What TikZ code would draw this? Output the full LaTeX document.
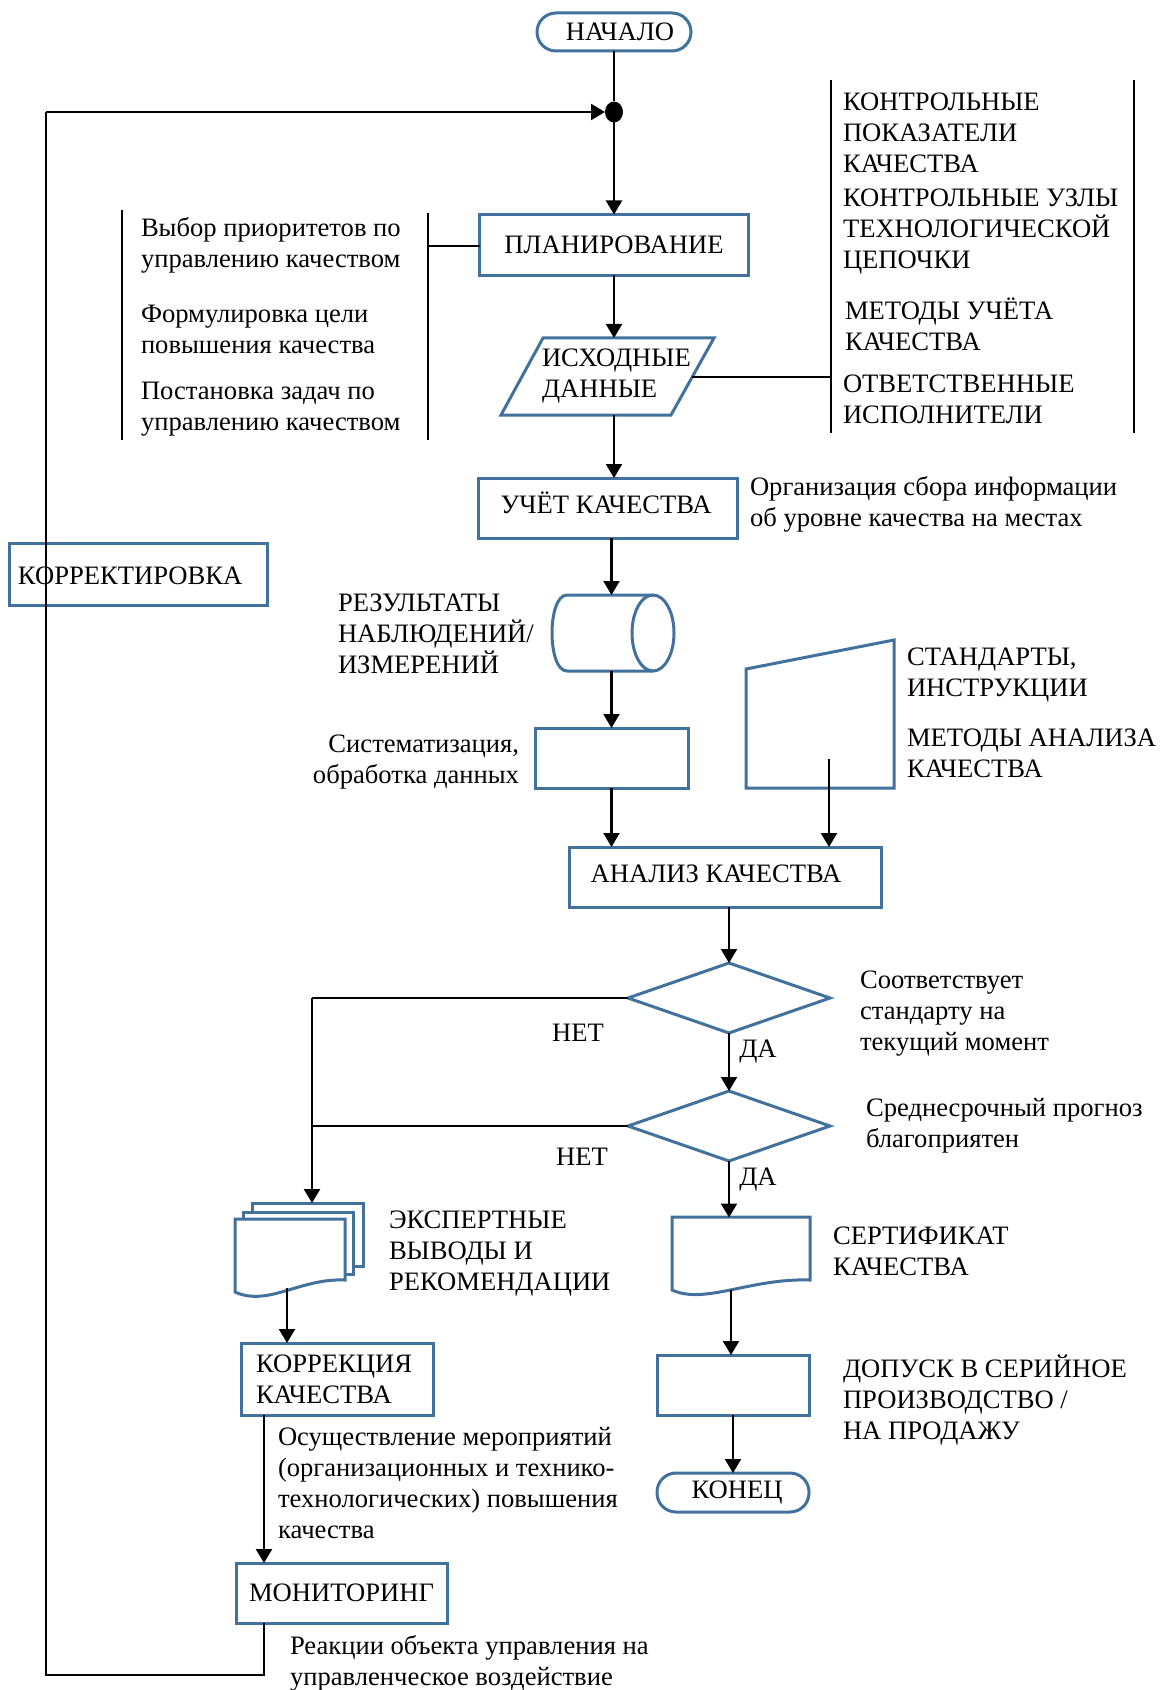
\documentclass[tikz,border=0pt]{standalone}
\usepackage{fontspec}
\setmainfont{Liberation Serif}
\usetikzlibrary{arrows.meta,shapes.geometric,calc}
\definecolor{boxblue}{RGB}{65,113,156}
\begin{document}
\begin{tikzpicture}[x=0.5pt,y=-0.5pt,
  every node/.style={font=\fontsize{13.3}{15.5}\selectfont, inner sep=0pt, outer sep=0pt},
  blk/.style={draw=boxblue, line width=1.5pt, rectangle},
  term/.style={draw=boxblue, line width=1.5pt, rectangle, rounded corners=9.5pt},
  blueline/.style={draw=boxblue, line width=1.5pt},
  arr/.style={line width=1.1pt, -{Triangle[length=7pt,width=8pt]}},
  ln/.style={line width=1.1pt},
  thinln/.style={line width=0.65pt},
  txt/.style={align=left, anchor=west},
  ghost/.style={rectangle, draw=none}]
\useasboundingbox (0,0) rectangle (1162,1690);

% ---- top
\node[term, minimum width=77pt, minimum height=19pt] (start) at (614,32) {\hspace*{6pt}НАЧАЛО};
\node[ellipse, fill=black, minimum width=9pt, minimum height=10.5pt] (dot) at (614,112) {};
\node[blk, minimum width=134.5pt, minimum height=30.5pt] (plan) at (614,245) {ПЛАНИРОВАНИЕ};

% input data parallelogram
\draw[blueline] (543,338) -- (714,338) -- (671,415) -- (501,415) -- cycle;
\node[ghost, minimum width=106.5pt, minimum height=38.5pt] (data) at (607.5,376.5) {};
\node[txt] (dataT) at (542,376) {ИСХОДНЫЕ\\ДАННЫЕ};

% left bracket
\coordinate (lb1t) at (122,210); \coordinate (lb1b) at (122,440);
\coordinate (lb2t) at (428,213); \coordinate (lb2b) at (428,440);
\coordinate (lbc) at (428,246);
\draw[thinln] (lb1t) -- (lb1b);
\draw[thinln] (lb2t) -- (lb2b);
\draw[thinln] (lbc) -- (lbc -| plan.west);
\node[txt] (lt1) at (141,245) {Выбор приоритетов по\\управлению качеством};
\node[txt] (lt2) at (141,329) {Формулировка цели\\повышения качества};
\node[txt] (lt3) at (141,409) {Постановка задач по\\управлению качеством};

% right bracket
\coordinate (rb1t) at (831,80); \coordinate (rb1b) at (831,433);
\coordinate (rb2t) at (1134,80); \coordinate (rb2b) at (1134,433);
\coordinate (dataR) at (692,377); \coordinate (rbc) at (831,377);
\draw[thinln] (rb1t) -- (rb1b);
\draw[thinln] (rb2t) -- (rb2b);
\draw[thinln] (dataR) -- (rbc);
\node[txt] (rt1) at (843,133) {КОНТРОЛЬНЫЕ\\ПОКАЗАТЕЛИ\\КАЧЕСТВА};
\node[txt] (rt2) at (843,232) {КОНТРОЛЬНЫЕ УЗЛЫ\\ТЕХНОЛОГИЧЕСКОЙ\\ЦЕПОЧКИ};
\node[txt] (rt3) at (845,324) {МЕТОДЫ УЧЁТА\\КАЧЕСТВА};
\node[txt] (rt4) at (843,399) {ОТВЕТСТВЕННЫЕ\\ИСПОЛНИТЕЛИ};

% quality accounting
\node[blk, minimum width=129.5pt, minimum height=30pt] (uchet) at (607.5,508) {};
\node (uchetT) at (606,503) {УЧЁТ КАЧЕСТВА};
\node[txt] (orgT) at (750,504) {Организация сбора информации\\об уровне качества на местах};

% cylinder
\draw[blueline] (653,595) -- (567,595) .. controls (547,595) and (547,671) .. (567,671) -- (653,671);
\draw[blueline] (653,633) ellipse [x radius=10.5pt, y radius=19pt];
\node[ghost, minimum width=61pt, minimum height=38pt] (cyl) at (613,633) {};
\node[txt] (resT) at (338,634) {РЕЗУЛЬТАТЫ\\НАБЛЮДЕНИЙ/\\ИЗМЕРЕНИЙ};

% systematisation
\node[blk, minimum width=76.5pt, minimum height=30pt] (sys) at (611.5,758) {};
\node[align=right, anchor=east] (sysT) at (519,762) {Систематизация,\\обработка данных};

% manual input
\draw[blueline] (746,669) -- (894,640) -- (894,788) -- (746,788) -- cycle;
\node[ghost, minimum width=74pt, minimum height=74pt] (man) at (820,714) {};
\coordinate (manA) at (829,759);
\node[txt] (stdT) at (907,675) {СТАНДАРТЫ,\\ИНСТРУКЦИИ};
\node[txt] (metT) at (907,753) {МЕТОДЫ АНАЛИЗА\\КАЧЕСТВА};

% analysis
\node[blk, minimum width=156pt, minimum height=30pt] (anal) at (725,877) {};
\node (analT) at (716,874) {АНАЛИЗ КАЧЕСТВА};

% decisions
\node[diamond, draw=boxblue, line width=1.5pt, aspect=2.886, minimum width=101pt, minimum height=35pt] (d1) at (729,998) {};
\node[diamond, draw=boxblue, line width=1.5pt, aspect=2.886, minimum width=101pt, minimum height=35pt] (d2) at (729,1126) {};
\node[txt] (d1T) at (860,1014) {Соответствует\\стандарту на\\текущий момент};
\node[txt] (d2T) at (866,1126) {Среднесрочный прогноз\\благоприятен};
\node (net1) at (578,1033) {НЕТ};
\node (net2) at (582,1157) {НЕТ};
\node (da1) at (758,1052) {ДА};
\node (da2) at (758,1180) {ДА};

% multi-document stack
\draw[blueline, fill=white] (252,1203) rectangle (363,1266);
\draw[blueline, fill=white] (243,1212) rectangle (353,1274);
\draw[blueline, fill=white] (235,1219) -- (345,1219) -- (345,1280) .. controls (300,1278) and (268,1307) .. (235,1292) -- cycle;
\node[ghost, minimum width=55.5pt, minimum height=31.5pt] (stackB) at (307.5,1234.5) {};
\coordinate (stO) at (287,1288);
\node[txt] (expT) at (389,1254) {ЭКСПЕРТНЫЕ\\ВЫВОДЫ И\\РЕКОМЕНДАЦИИ};

% certificate
\draw[blueline, fill=white] (672,1217) -- (810,1217) -- (810,1280) .. controls (750,1278) and (705,1305) .. (672,1290) -- cycle;
\node[ghost, minimum width=69pt, minimum height=33pt] (cert) at (741,1250.5) {};
\coordinate (ceO) at (731,1290);
\node[txt] (certT) at (833,1251) {СЕРТИФИКАТ\\КАЧЕСТВА};

% correction & monitoring
\node[blk, minimum width=96pt, minimum height=36pt] (korr) at (337,1379) {};
\node[txt] (korrT) at (256,1379) {КОРРЕКЦИЯ\\КАЧЕСТВА};
\node[txt] (osT) at (278,1483) {Осуществление мероприятий\\(организационных и технико-\\технологических) повышения\\качества};
\node[blk, minimum width=105.5pt, minimum height=30pt] (mon) at (341.5,1593) {МОНИТОРИНГ};
\node[txt] (reT) at (290,1663) {Реакции объекта управления на\\управленческое воздействие};

% admission & end
\node[blk, minimum width=76pt, minimum height=30pt] (dop) at (733,1385) {};
\node[txt] (dopT) at (843,1400) {ДОПУСК В СЕРИЙНОЕ\\ПРОИЗВОДСТВО /\\НА ПРОДАЖУ};
\node[term, minimum width=76pt, minimum height=19.5pt] (kon) at (733,1492.5) {\hspace*{4pt}КОНЕЦ};

% correction (left box)
\node[blk, minimum width=129pt, minimum height=31pt] (korrtir) at (138,574) {};
\node[txt] (korrtirT) at (18,576) {КОРРЕКТИРОВКА};

% ---- connectors
\draw[ln] (start.south) -- (dot.north);
\draw[arr] (dot.south) -- (plan.north);
\draw[arr] (plan.south) -- (plan.south |- data.north);
\draw[arr] (plan.south |- data.south) -- (plan.south |- uchet.north);
\draw[arr] (uchet.south -| sys.north) -- (cyl.north -| sys.north);
\draw[arr] (cyl.south -| sys.north) -- (sys.north);
\draw[arr] (sys.south) -- (sys.south |- anal.north);
\draw[arr] (manA) -- (manA |- anal.north);
\draw[arr] (anal.south -| d1.north) -- (d1.north);
\draw[arr] (d1.south) -- (d2.north);
\coordinate (nx1) at (312,998);
\draw[ln] (d1.west) -- (nx1);
\draw[arr] (nx1) -- (nx1 |- stackB.north);
\draw[ln] (d2.west) -- (d2.west -| nx1);
\draw[arr] (d2.south) -- (d2.south |- cert.north);
\draw[arr] (stO) -- (stO |- korr.north);
\coordinate (fbx) at (264,1675);
\coordinate (fbl) at (46,1675);
\coordinate (fbt) at (46,112);
\draw[arr] (korr.south -| fbx) -- (fbx |- mon.north);
\draw[thinln] (mon.south -| fbx) -- (fbx) -- (fbl) -- (fbt);
\draw[arr] (fbt) -- (dot.west);
\draw[arr] (ceO) -- (ceO |- dop.north);
\draw[arr] (dop.south) -- (kon.north);
\end{tikzpicture}
\end{document}
